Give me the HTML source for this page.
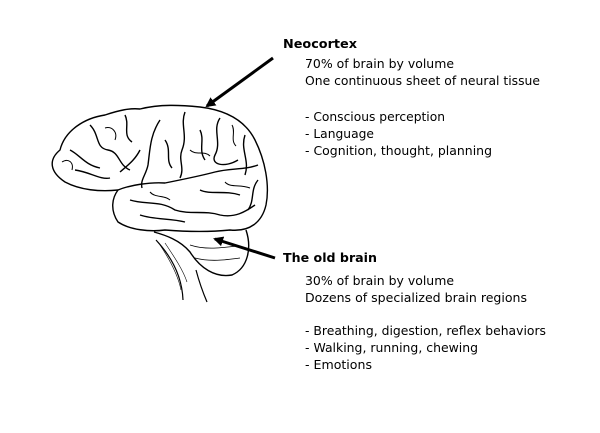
<!DOCTYPE html>
<html><head><style>
html,body{margin:0;padding:0;background:#fff;width:600px;height:433px;overflow:hidden}
svg text{font-family:"DejaVu Sans","Liberation Sans",sans-serif;font-size:12.5px;fill:#000}
</style></head><body>
<svg width="600" height="433" viewBox="0 0 600 433" xmlns="http://www.w3.org/2000/svg">
<defs><marker id="ah" markerWidth="10" markerHeight="10" refX="8" refY="5" orient="auto" markerUnits="userSpaceOnUse"><path d="M0,0 L10,5 L0,10 z" fill="#000"/></marker></defs>
<g fill="none" stroke="#000" stroke-width="1.4" stroke-linejoin="round">
<path d="M156,240 C170,255 182,275 183,300 M196,270 C200,285 204,295 207,302" stroke-width="1.2"/>
<path d="M160,245 C170,260 178,275 181,290 M165,243 C175,258 183,270 187,282" stroke-width="0.6"/>
<path d="M154,232 C165,235 180,240 190,252 C200,268 215,278 232,275 C248,268 252,248 246,230" fill="#fff"/>
<path d="M190,245 C205,250 220,248 238,246 M195,258 C210,262 225,260 240,258" stroke-width="0.8"/>
<path d="M60,150 C65,130 85,118 105,115 C120,110 130,108 140,109 C160,104 180,105 200,107 C225,110 245,120 255,140 C265,160 270,185 266,205 C262,222 250,232 230,230 C210,232 190,232 165,230 C150,232 130,230 118,222 C110,210 112,198 118,190 C100,192 80,190 65,182 C50,172 48,160 60,150 Z" fill="#fff"/>
<path d="M118,190 C130,185 150,182 165,183 C180,180 200,176 215,172 C230,168 245,170 258,165"/>
<path d="M160,120 C150,135 150,150 148,165 C146,175 140,180 142,188"/>
<path d="M185,112 C180,125 188,135 182,150 C178,160 185,168 180,178"/>
<path d="M220,118 C212,130 222,142 215,155 C210,165 225,168 238,160"/>
<path d="M90,125 C100,135 95,148 108,150 C120,152 118,165 130,170"/>
<path d="M70,150 C80,155 85,165 100,168 M75,170 C90,172 100,180 110,178"/>
<path d="M125,115 C130,125 122,135 132,142 M140,150 C135,160 128,165 120,172"/>
<path d="M245,135 C240,150 250,160 245,175 M258,180 C250,190 255,200 248,210"/>
<path d="M130,200 C145,205 160,200 175,210 C190,215 205,210 220,215 C235,218 245,212 255,205"/>
<path d="M140,215 C155,220 170,218 185,222 M200,190 C210,195 225,190 240,195"/>
<path d="M165,140 C172,150 165,160 172,168 M200,130 C205,140 198,150 205,160"/>
<path d="M105,128 C112,126 118,132 115,140 M62,162 C68,158 74,162 72,170" stroke-width="1"/>
<path d="M232,125 C236,132 230,140 236,146 M190,150 C196,156 204,150 210,156" stroke-width="1"/>
<path d="M150,192 C155,198 165,195 170,200 M225,182 C230,188 240,184 250,188" stroke-width="1"/>
</g>
<line x1="273" y1="58" x2="207" y2="106" stroke="#000" stroke-width="3" marker-end="url(#ah)"/>
<line x1="275" y1="258" x2="215" y2="239" stroke="#000" stroke-width="3" marker-end="url(#ah)"/>
<text x="283" y="48" style="font-weight:bold" textLength="74" lengthAdjust="spacingAndGlyphs">Neocortex</text>
<text x="305" y="68" textLength="149" lengthAdjust="spacingAndGlyphs">70% of brain by volume</text>
<text x="305" y="85" textLength="235" lengthAdjust="spacingAndGlyphs">One continuous sheet of neural tissue</text>
<text x="305" y="121" textLength="140" lengthAdjust="spacingAndGlyphs">- Conscious perception</text>
<text x="305" y="138" textLength="69" lengthAdjust="spacingAndGlyphs">- Language</text>
<text x="305" y="155" textLength="187" lengthAdjust="spacingAndGlyphs">- Cognition, thought, planning</text>
<text x="283" y="262" style="font-weight:bold" textLength="94" lengthAdjust="spacingAndGlyphs">The old brain</text>
<text x="305" y="285" textLength="149" lengthAdjust="spacingAndGlyphs">30% of brain by volume</text>
<text x="305" y="302" textLength="222" lengthAdjust="spacingAndGlyphs">Dozens of specialized brain regions</text>
<text x="305" y="335" textLength="241" lengthAdjust="spacingAndGlyphs">- Breathing, digestion, reflex behaviors</text>
<text x="305" y="352" textLength="173" lengthAdjust="spacingAndGlyphs">- Walking, running, chewing</text>
<text x="305" y="369" textLength="67" lengthAdjust="spacingAndGlyphs">- Emotions</text>
</svg>
</body></html>
